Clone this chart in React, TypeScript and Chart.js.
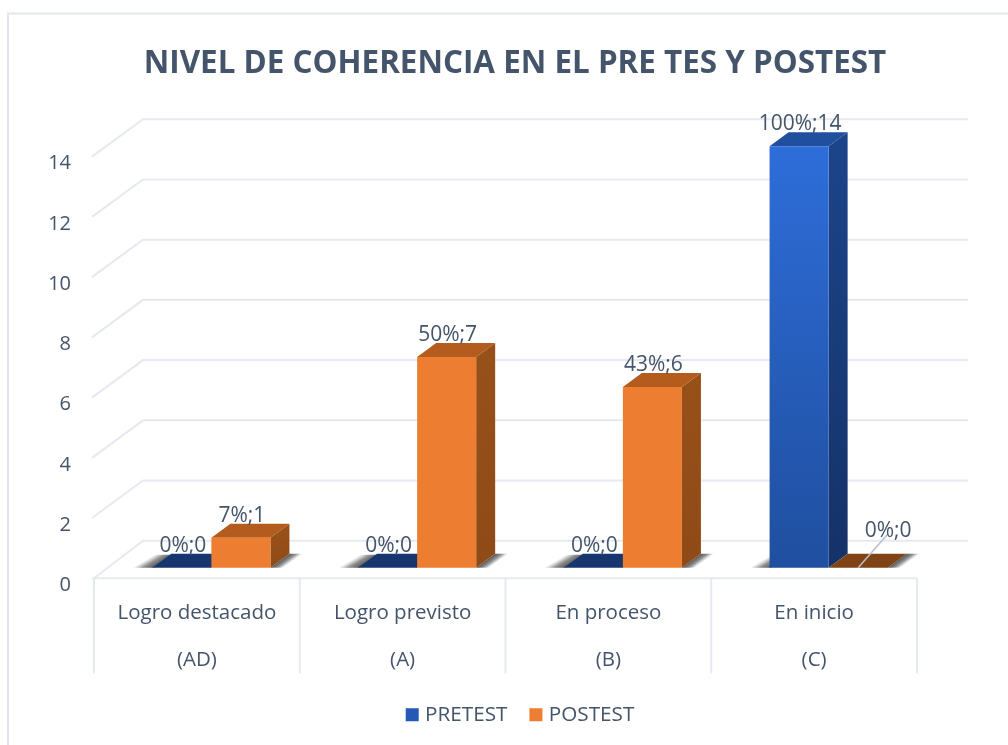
import React, { useEffect, useRef } from "react";
import { Chart, registerables } from "chart.js";

Chart.register(...registerables);

const titleText = "NIVEL DE COHERENCIA EN EL PRE TES Y POSTEST";
const categories = [
  ["Logro destacado", "(AD)"],
  ["Logro previsto", "(A)"],
  ["En proceso", "(B)"],
  ["En inicio", "(C)"],
];
const pretestValues = [0, 0, 0, 14];
const postestValues = [1, 7, 6, 0];
const pretestPercents = [0, 0, 0, 100];
const postestPercents = [7, 50, 43, 0];

const FONT = "'Open Sans', 'Noto Sans', sans-serif";
const TEXT = "#44546a";
const GRID = "#e6e9f0";
const SHIFT_X = 14.5;
const SHIFT_Y = -10.5;
const DEPTH_X = 19;
const DEPTH_Y = -14;

const poly = (ctx: CanvasRenderingContext2D, pts: number[][], fill: any) => {
  ctx.beginPath();
  pts.forEach((p, i) => (i ? ctx.lineTo(p[0], p[1]) : ctx.moveTo(p[0], p[1])));
  ctx.closePath();
  ctx.fillStyle = fill;
  ctx.fill();
};

const look = [
  { top: "#1f4f9e", flat: "#17366f", sideA: "#1c4489", sideB: "#153268" },
  { top: "#b45c1e", flat: "#7f4315", sideA: "#985019", sideB: "#8e4a17" },
];

const drawFaces = (chart: any, index: number) => {
  const ctx = chart.ctx;
  const st = look[index];
  chart.getDatasetMeta(index).data.forEach((b: any, i: number) => {
    const l = b.x - b.width / 2;
    const r = b.x + b.width / 2;
    const value = chart.data.datasets[index].data[i];
    const grad = ctx.createLinearGradient(0, b.y, 0, b.base);
    grad.addColorStop(0, st.sideA);
    grad.addColorStop(1, st.sideB);
    poly(ctx, [[r, b.y], [r + DEPTH_X, b.y + DEPTH_Y], [r + DEPTH_X, b.base + DEPTH_Y], [r, b.base]], grad);
    poly(ctx, [[l, b.y], [l + DEPTH_X, b.y + DEPTH_Y], [r + DEPTH_X, b.y + DEPTH_Y], [r, b.y]], value === 0 ? st.flat : st.top);
  });
};

const scene = {
  id: "scene",
  afterLayout(chart: any) {
    chart.legend.left += 14;
  },
  beforeDraw(chart: any) {
    const ctx = chart.ctx;
    ctx.save();
    ctx.fillStyle = "#fff";
    ctx.fillRect(0, 0, chart.width, chart.height);
    ctx.strokeStyle = "#e2e6ee";
    ctx.lineWidth = 2;
    ctx.beginPath();
    ctx.moveTo(8, chart.height);
    ctx.lineTo(8, 13.5);
    ctx.lineTo(chart.width, 13.5);
    ctx.stroke();
    ctx.restore();
  },
  beforeDatasetsDraw(chart: any) {
    const ctx = chart.ctx;
    const { x, y } = chart.scales;
    ctx.save();
    ctx.strokeStyle = GRID;
    ctx.lineWidth = 2;
    const wallL = x.left + 49;
    const wallR = x.right + 51;
    y.ticks.forEach((t: any) => {
      const py = y.getPixelForValue(t.value);
      ctx.beginPath();
      ctx.moveTo(t.value === 0 ? x.left : x.left - 2, py);
      ctx.lineTo(wallL, py - 37.5);
      ctx.lineTo(wallR, py - 37.5);
      ctx.stroke();
    });
    // floor edge and category separators
    const floor = y.getPixelForValue(0);
    ctx.beginPath();
    ctx.moveTo(x.left - 2, floor);
    ctx.lineTo(x.right, floor);
    ctx.stroke();
    for (let i = 0; i <= categories.length; i++) {
      const px = x.left + (i * x.width) / categories.length;
      ctx.beginPath();
      ctx.moveTo(px, floor);
      ctx.lineTo(px, floor + 95);
      ctx.stroke();
    }
    // soft floor shadows
    const m0 = chart.getDatasetMeta(0).data;
    const m1 = chart.getDatasetMeta(1).data;
    m0.forEach((b: any, i: number) => {
      const yb = floor + SHIFT_Y;
      const lx = b.x - b.width / 2 + SHIFT_X;
      const rx = m1[i].x + m1[i].width / 2 + SHIFT_X;
      const gl = ctx.createLinearGradient(lx - 20, yb, lx - 14.8, yb + 8.8);
      gl.addColorStop(0, "rgba(110,110,110,0)");
      gl.addColorStop(0.5, "rgba(85,85,85,0.65)");
      gl.addColorStop(1, "rgba(70,70,70,0.9)");
      poly(ctx, [[lx + 1, yb], [lx - 20, yb], [lx + 2, yb - 13], [lx + 20, yb - 13]], gl);
      const gr = ctx.createLinearGradient(rx, yb, rx + 4.5, yb + 6.2);
      gr.addColorStop(0, "rgba(70,70,70,0.9)");
      gr.addColorStop(0.5, "rgba(85,85,85,0.65)");
      gr.addColorStop(1, "rgba(110,110,110,0)");
      poly(ctx, [[rx, yb], [rx + 19, yb - 14], [rx + 33, yb - 14], [rx + 12, yb]], gr);
    });
    ctx.restore();
  },
  // Chart.js paints the first dataset last; the PRETEST boxes stand behind POSTEST,
  // so PRETEST is painted together with the first hook call.
  beforeDatasetDraw(chart: any, args: any) {
    if (args.index === 0) return false;
    const ctx = chart.ctx;
    ctx.save();
    ctx.translate(SHIFT_X, SHIFT_Y);
    drawFaces(chart, 0);
    chart.getDatasetMeta(0).controller.draw();
    drawFaces(chart, 1);
    return true;
  },
  afterDatasetDraw(chart: any) {
    chart.ctx.restore();
  },
  afterDatasetsDraw(chart: any) {
    const ctx = chart.ctx;
    ctx.save();
    ctx.font = `21px ${FONT}`;
    ctx.textAlign = "center";
    ctx.textBaseline = "middle";
    const sets = [
      { values: pretestValues, pct: pretestPercents },
      { values: postestValues, pct: postestPercents },
    ];
    sets.forEach((s, d) => {
      chart.getDatasetMeta(d).data.forEach((b: any, i: number) => {
        const cx = b.x + SHIFT_X;
        const top = b.y + SHIFT_Y;
        const text = `${s.pct[i]}%;${s.values[i]}`;
        const leader = d === 1 && s.values[i] === 0;
        if (leader) {
          ctx.strokeStyle = "#b7c0cd";
          ctx.lineWidth = 1.5;
          ctx.beginPath();
          ctx.moveTo(cx, top);
          ctx.lineTo(cx + 29, top - 33);
          ctx.stroke();
        }
        ctx.fillStyle = TEXT;
        ctx.fillText(text, leader ? cx + 30 : cx + 1, leader ? top - 37 : top - 22);
      });
    });
    ctx.restore();
  },
};

export default function App() {
  const ref = useRef<HTMLCanvasElement | null>(null);
  useEffect(() => {
    document.body.style.margin = "0";
    const blueFill = (c: any) => {
      const chart = c.chart;
      if (!chart.chartArea) return "#2a62c4";
      const g = chart.ctx.createLinearGradient(0, chart.chartArea.top, 0, chart.chartArea.bottom);
      g.addColorStop(0, "#2e6dd9");
      g.addColorStop(1, "#1f4f9f");
      return g;
    };
    const chart = new Chart(ref.current as HTMLCanvasElement, {
      type: "bar",
      data: {
        labels: categories,
        datasets: [
          { label: "PRETEST", data: pretestValues, backgroundColor: blueFill, clip: false },
          { label: "POSTEST", data: postestValues, backgroundColor: "#ed7d31", clip: false },
        ],
      } as any,
      plugins: [scene],
      options: {
        responsive: false,
        animation: false,
        layout: { padding: { left: 22, right: 0, top: 0, bottom: 10 } },
        datasets: { bar: { categoryPercentage: 0.574, barPercentage: 1 } },
        scales: {
          x: {
            grid: { display: false, drawTicks: false },
            border: { display: false },
            afterFit: (s: any) => { s.height = 100; },
            ticks: {
              color: TEXT,
              padding: 11,
              maxRotation: 0,
              autoSkip: false,
              font: { family: FONT, size: 20.5, lineHeight: 2.29 },
            },
          },
          y: {
            min: 0,
            max: 14,
            afterFit: (s: any) => { s.width = 72; },
            grid: { display: false, drawTicks: false },
            border: { display: false },
            ticks: {
              stepSize: 2,
              color: TEXT,
              padding: 23,
              labelOffset: 7,
              font: { family: FONT, size: 20 },
            },
          },
          yRight: {
            position: "right",
            display: true,
            min: 0,
            max: 14,
            afterFit: (s: any) => { s.width = 91; },
            grid: { display: false, drawTicks: false },
            border: { display: false },
            ticks: { display: false },
          },
        },
        plugins: {
          title: {
            display: true,
            text: titleText,
            color: TEXT,
            font: { family: FONT, size: 31.4, weight: "bold", lineHeight: 1.2 },
            padding: { top: 45, bottom: 74 },
          },
          legend: {
            position: "bottom",
            labels: {
              color: TEXT,
              boxWidth: 5,
              boxHeight: 5,
              padding: 26,
              font: { family: FONT, size: 20.7 },
              generateLabels: () => [
                { text: "PRETEST", fillStyle: "#2459b5", strokeStyle: "#2459b5", lineWidth: 8, datasetIndex: 0, fontColor: TEXT },
                { text: "POSTEST", fillStyle: "#ed7d31", strokeStyle: "#ed7d31", lineWidth: 8, datasetIndex: 1, fontColor: TEXT },
              ],
            },
          },
          tooltip: { enabled: false },
        },
      } as any,
    });
    return () => chart.destroy();
  }, []);
  return (
    <div style={{ position: "fixed", left: 0, top: 0, width: 1008, height: 745, overflow: "hidden", background: "#fff" }}>
      <canvas ref={ref} width={1008} height={745} style={{ display: "block" }} />
    </div>
  );
}
